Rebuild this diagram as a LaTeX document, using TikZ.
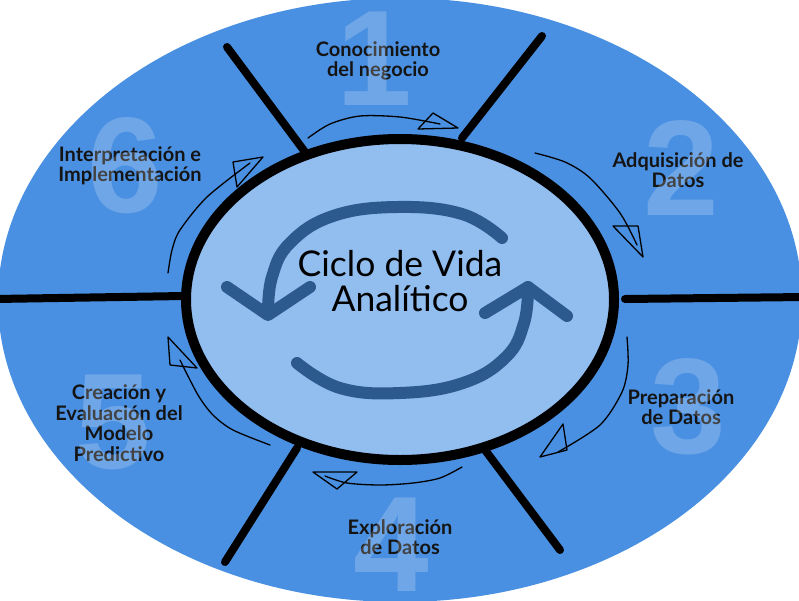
\documentclass[tikz,border=0pt]{standalone}
\usepackage{fontspec}
\setmainfont{Lato}
\newfontfamily\numfont{Liberation Sans}
\usetikzlibrary{calc}
\definecolor{outerblue}{RGB}{74,144,226}
\definecolor{innerblue}{RGB}{145,189,239}
\definecolor{cycleblue}{RGB}{44,90,143}
\tikzset{
  spoke/.style={line width=8pt, line cap=round, black},
  steplabel/.style={font=\bfseries\fontsize{20}{20.5}\selectfont, align=center, text=black!92, inner sep=0pt},
  bignum/.style={font=\numfont\bfseries\fontsize{136}{136}\selectfont, text=white, text opacity=0.2, inner sep=0pt},
  sketch/.style={line width=1.3pt, black, line cap=round, line join=round},
  cyc/.style={line width=12pt, cycleblue, line cap=round, line join=round}
}
\begin{document}
\begin{tikzpicture}[x=1pt,y=-1pt]
\useasboundingbox (0,0) rectangle (799,600);
\fill[white] (0,0) rectangle (799,600);
% outer ellipse
\fill[outerblue] (400,300) ellipse [x radius=402, y radius=302];
% spokes
\coordinate (s1a) at (227,47);  \coordinate (s1b) at (305,152);
\coordinate (s2a) at (542,36);  \coordinate (s2b) at (462,138);
\coordinate (s3a) at (625,299); \coordinate (s3b) at (805,297);
\coordinate (s4a) at (-5,299);  \coordinate (s4b) at (184,296);
\coordinate (s5a) at (297,448); \coordinate (s5b) at (225,562);
\coordinate (s6a) at (485,450); \coordinate (s6b) at (560,550);
\foreach \i in {1,...,6}{\draw[spoke] (s\i a) -- (s\i b);}
% inner ellipse
\filldraw[fill=innerblue, draw=black, line width=10pt] (400,299.5) ellipse [x radius=214, y radius=160.5];
% cycle arrows
\draw[cyc] plot[smooth, tension=0.7] coordinates {(502,238) (462,214) (397,207) (333,216) (290,243) (272,277) (268,313)};
\draw[cyc] (227,287) -- (268,315) -- (310,287);
\draw[cyc] plot[smooth, tension=0.7] coordinates {(297,363) (340,388) (400,393) (463,383) (506,357) (524,323) (528,287)};
\draw[cyc] (485,313) -- (528,287) -- (567,316);
% center text
\node[font=\fontsize{35.5}{35.5}\selectfont, align=center, inner sep=0pt] (title) at (400,281) {Ciclo de Vida\\Analítico};
% labels
\node[steplabel] (l1) at (378,61) {Conocimiento\\del negocio};
\node[steplabel] (l2) at (678,170) {Adquisición de\\Datos};
\node[steplabel] (l3) at (681,407) {Preparación\\de Datos};
\node[steplabel] (l4) at (400,537) {Exploración\\de Datos};
\node[steplabel] (l5) at (119,423) {Creación y\\Evaluación del\\Modelo\\Predictivo};
\node[steplabel] (l6) at (130,166) {Interpretación e\\Implementación};
% big numbers
\node[bignum] (n1) at (374,59) {1};
\node[bignum] (n2) at (681,168) {2};
\node[bignum] (n3) at (688,407) {3};
\node[bignum] (n4) at (391,545) {4};
\node[bignum] (n5) at (113,422) {5};
\node[bignum] (n6) at (125,166) {6};
% sketch arrows
\draw[sketch] plot[smooth] coordinates {(308,138) (330,124) (360,116) (400,117) (440,124)};
\draw[sketch] (458,128) -- (433,113) -- (418,129) -- cycle;
\draw[sketch] plot[smooth] coordinates {(535,153) (565,162) (590,178) (620,213) (637,245)};
\draw[sketch] (643,257) -- (613,226) -- (638,226) -- cycle;
\draw[sketch] plot[smooth] coordinates {(627,337) (628,365) (622,392) (600,425) (558,452)};
\draw[sketch] (540,457) -- (563,424) -- (567,450) -- cycle;
\draw[sketch] plot[smooth] coordinates {(462,467) (440,478) (413,483) (380,485) (347,483) (325,476)};
\draw[sketch] (313,472) -- (357,472) -- (337,489) -- cycle;
\draw[sketch] plot[smooth] coordinates {(270,445) (233,430) (213,415) (198,395) (180,360)};
\draw[sketch] (168,337) -- (197,368) -- (170,365) -- cycle;
\draw[sketch] plot[smooth] coordinates {(168,273) (172,250) (180,230) (207,197) (250,163)};
\draw[sketch] (263,157) -- (233,162) -- (237,187) -- cycle;
\end{tikzpicture}
\end{document}
